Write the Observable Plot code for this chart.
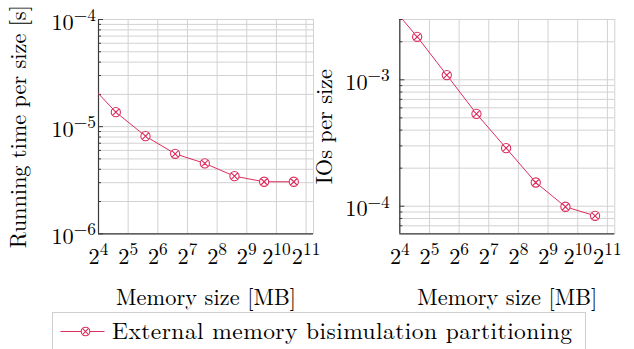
<!DOCTYPE html>
<html>
<head>
<meta charset="utf-8">
<script src="https://cdn.jsdelivr.net/npm/d3@7"></script>
<script src="https://cdn.jsdelivr.net/npm/@observablehq/plot@0.6"></script>
<style>
  html, body { margin: 0; padding: 0; background: #fff; }
  #wrap { position: relative; width: 634px; height: 349px; overflow: hidden; background: #fff; }
  #wrap > svg { position: absolute; top: 0; }
  #wrap text { font-family: 'Latin Modern Roman', 'DejaVu Serif', serif; }
  #legend { position: absolute; left: 51.5px; top: 311.5px; width: 534px; height: 45px; border: 1px solid #cfcfcf; box-sizing: border-box; background: #fff; }
</style>
</head>
<body>
<div id="wrap"></div>
<script>
// ---- data ----
const memorySizes = [12, 24, 48, 96, 192, 384, 768, 1536];           // MB
const runningTime = [2.69e-5, 1.365e-5, 8.15e-6, 5.58e-6, 4.54e-6, 3.45e-6, 3.06e-6, 3.06e-6];
const iosPerSize  = [4.15e-3, 2.19e-3, 1.09e-3, 5.38e-4, 2.88e-4, 1.54e-4, 9.9e-5, 8.4e-5];
const seriesName = "External memory bisimulation partitioning";

// ---- ticks ----
const xTicks = [16, 32, 64, 128, 256, 512, 1024, 2048];
const leftMajor = [1e-6, 1e-5, 1e-4];
const leftMinor = [2e-6,3e-6,4e-6,5e-6,6e-6,7e-6,8e-6,9e-6, 2e-5,3e-5,4e-5,5e-5,6e-5,7e-5,8e-5,9e-5];
const rightMajor = [1e-4, 1e-3];
const rightMinor = [7e-5,8e-5,9e-5, 2e-4,3e-4,4e-4,5e-4,6e-4,7e-4,8e-4,9e-4, 2e-3,3e-3];

const COLOR = "#dc2d5e";
const GRID = "#d2d2d2";
const AXIS = "#3a3a3a";
const FONT = "'Latin Modern Roman', 'DejaVu Serif', serif";
const FS = 22.3;

const rowsRun = memorySizes.map((m, i) => ({m, v: runningTime[i]}));
const rowsIO  = memorySizes.map((m, i) => ({m, v: iosPerSize[i]}));

const otimes = {
  draw(ctx, size) {
    const r = Math.sqrt(size / Math.PI);
    ctx.moveTo(r, 0);
    ctx.arc(0, 0, r, 0, 2 * Math.PI);
    const d = r * Math.SQRT1_2;
    ctx.moveTo(-d, -d); ctx.lineTo(d, d);
    ctx.moveTo(-d, d); ctx.lineTo(d, -d);
  }
};

const fmtX = d => `2^${Math.round(Math.log2(d))}`;
const fmtY = d => `10^−${Math.round(-Math.log10(d))}`;

function makeChart({rows, width, marginLeft, marginRight, yDomain, major, minor, yPad, yTitle, yTitleDx}) {
  const xmin = 16, ymin = yDomain[0];
  return Plot.plot({
    width, height: 322,
    marginLeft, marginRight, marginTop: 19, marginBottom: 88.7,
    style: {fontFamily: FONT, fontSize: FS + "px", color: "#000", background: "transparent", overflow: "visible"},
    x: {type: "log", base: 2, domain: [16, Math.pow(2, 11.25)]},
    y: {type: "log", domain: yDomain},
    marks: [
      Plot.ruleY(minor, {stroke: GRID, strokeWidth: 1}),
      Plot.ruleY(major, {stroke: GRID, strokeWidth: 1}),
      Plot.ruleX(xTicks, {stroke: GRID, strokeWidth: 1}),
      Plot.frame({stroke: GRID}),
      Plot.axisY({ticks: minor, tickSize: -3, tickFormat: () => "", label: null, stroke: AXIS}),
      Plot.axisY({ticks: major, tickSize: -5, tickFormat: () => "", label: null, stroke: AXIS}),
      Plot.ruleX([xmin], {stroke: AXIS, strokeWidth: 1.2}),
      Plot.ruleY([ymin], {stroke: AXIS, strokeWidth: 1.2}),
      Plot.axisX({ticks: xTicks, tickFormat: fmtX, tickSize: 0, tickPadding: 14, label: null, fill: "#000"}),
      Plot.axisY({ticks: major, tickFormat: fmtY, tickSize: 0, tickPadding: yPad, dy: 3, label: null, fill: "#000"}),
      Plot.line(rows, {x: "m", y: "v", stroke: COLOR, strokeWidth: 1, clip: true}),
      Plot.dot(rows, {x: "m", y: "v", r: 4.6, symbol: otimes, stroke: COLOR, fill: "white", strokeWidth: 1.1, clip: true}),
      Plot.text(["Memory size [MB]"], {frameAnchor: "bottom", text: d => d, lineAnchor: "bottom", textAnchor: "middle", dy: 71, fill: "#000"}),
      Plot.text([yTitle], {frameAnchor: "left", text: d => d, rotate: -90, lineAnchor: "bottom", textAnchor: "middle", dx: yTitleDx, fill: "#000"})
    ]
  });
}

function supify(svg) {
  const ns = "http://www.w3.org/2000/svg";
  svg.querySelectorAll("text").forEach(t => {
    const m = t.textContent.match(/^(\d+)\^(.+)$/);
    if (!m) return;
    while (t.firstChild) t.removeChild(t.firstChild);
    const a = document.createElementNS(ns, "tspan");
    a.textContent = m[1];
    const b = document.createElementNS(ns, "tspan");
    b.textContent = m[2];
    b.setAttribute("dy", "-0.5em");
    b.setAttribute("font-size", "78%");
    t.appendChild(a); t.appendChild(b);
  });
}

// stretch a text to the width the reference shows
function fitText(svg, content, length) {
  svg.querySelectorAll("text").forEach(t => {
    if (t.textContent === content) t.setAttribute("textLength", length);
  });
}

const wrap = document.getElementById("wrap");

const left = makeChart({
  rows: rowsRun, width: 315, marginLeft: 98, marginRight: 2,
  yDomain: [1e-6, 1e-4], major: leftMajor, minor: leftMinor, yPad: 2.5,
  yTitle: "Running time per size [s]", yTitleDx: -73
});
left.style.left = "0px";
supify(left);
fitText(left, "Memory size [MB]", 180);
fitText(left, "Running time per size [s]", 243);
wrap.appendChild(left);

const right = makeChart({
  rows: rowsIO, width: 319, marginLeft: 84.3, marginRight: 19.7,
  yDomain: [6.05e-5, 3.0e-3], major: rightMajor, minor: rightMinor, yPad: 10,
  yTitle: "IOs per size", yTitleDx: -68
});
right.style.left = "315px";
supify(right);
fitText(right, "Memory size [MB]", 180);
fitText(right, "IOs per size", 115);
wrap.appendChild(right);

// ---- legend ----
const legend = document.createElement("div");
legend.id = "legend";
legend.innerHTML = `<svg width="534" height="45" style="position:absolute;left:-1px;top:-1px">
  <line x1="8.5" x2="52.5" y1="19.5" y2="19.5" stroke="${COLOR}" stroke-width="1"/>
  <circle cx="33.5" cy="19.5" r="4.3" fill="white" stroke="${COLOR}" stroke-width="1.1"/>
  <path d="M30.46,16.46L36.54,22.54M30.46,22.54L36.54,16.46" stroke="${COLOR}" stroke-width="1.1"/>
  <text x="60" y="26.5" textLength="460" style="font-size:23.5px" fill="#000">${seriesName}</text>
</svg>`;
wrap.appendChild(legend);
</script>
</body>
</html>
